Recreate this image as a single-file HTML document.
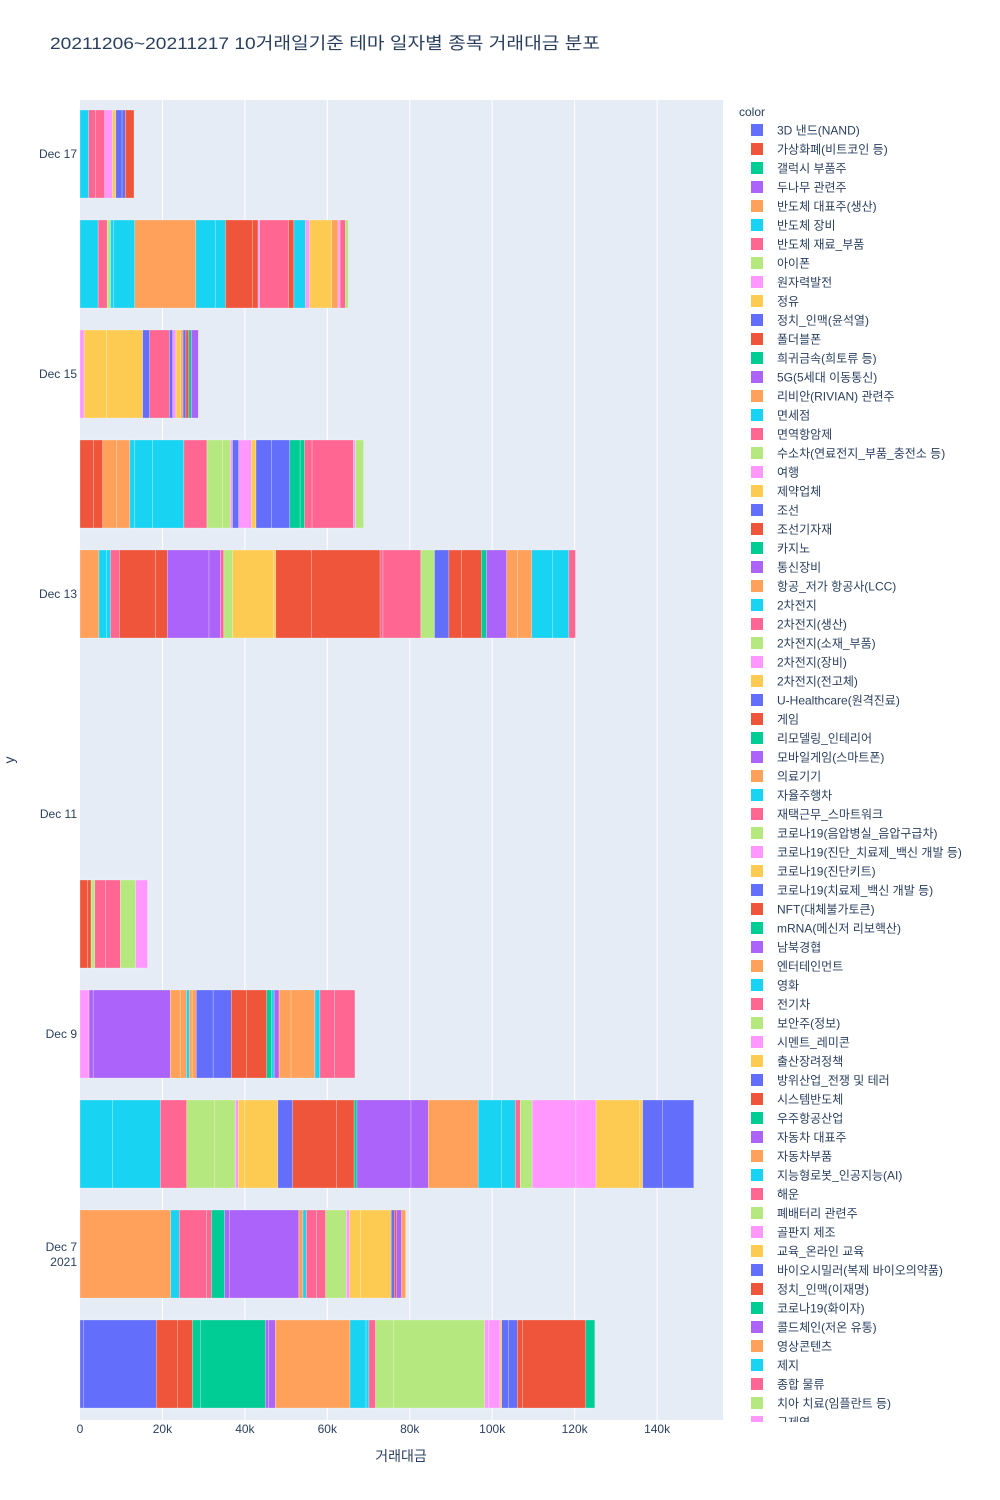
<!DOCTYPE html>
<html><head><meta charset="utf-8"><style>
body{margin:0;background:#fff}
svg{display:block;font-family:"Liberation Sans","Noto Sans CJK KR",sans-serif}
</style></head><body>
<svg id="chart" width="1000" height="1500">
<text x="50" y="49" font-size="17" fill="#2a3f5f" textLength="550" lengthAdjust="spacingAndGlyphs">20211206~20211217 10거래일기준 테마 일자별 종목 거래대금 분포</text>
<rect x="80" y="100" width="643" height="1320" fill="#e5ecf6"/>
<g id="grid"></g><g id="bars"></g><g id="axes"></g>
<text x="401" y="1461" font-size="14" fill="#2a3f5f" text-anchor="middle">거래대금</text>
<text transform="translate(14,760) rotate(-90)" font-size="14" fill="#2a3f5f" text-anchor="middle">y</text>
<defs><clipPath id="lc"><rect x="730" y="100" width="270" height="1322"/></clipPath></defs>
<text x="739" y="116" font-size="12" fill="#2a3f5f">color</text>
<g id="legend" clip-path="url(#lc)"></g>
</svg>
<script>
const colors=["#636efa","#EF553B","#00cc96","#ab63fa","#FFA15A","#19d3f3","#FF6692","#B6E880","#FF97FF","#FECB52"];
const dates=["Dec 6","Dec 7","Dec 8","Dec 9","Dec 10","Dec 11","Dec 12","Dec 13","Dec 14","Dec 15","Dec 16","Dec 17"];
const xTicks=[0,20,40,60,80,100,120,140];
const xTickLabels=["0","20k","40k","60k","80k","100k","120k","140k"];
const yTickDates=["Dec 7\n2021","Dec 9","Dec 11","Dec 13","Dec 15","Dec 17"];
const yTickIdx=[1,3,5,7,9,11];
const vals=[
[0.9,17.6,5.2,3.6,2.0,15.7,0.8,1.6,18.1,3.9,0.7,1.6,4.3,22.2,1.0,2.7,0.4,1.7,2.1,1.3,15.3,2.2],
[22.0,2.1,6.6,1.2,3.2,1.2,16.8,1.0,0.8,2.5,2.2,5.0,0.8,2.6,7.5,0.8,0.5,1.2,1.0],
[7.9,11.6,6.4,6.8,5.0,0.7,1.6,8.0,3.6,10.6,4.3,0.7,13.1,4.2,12.1,5.6,3.4,1.2,2.9,10.6,4.9,10.6,0.7,4.8,7.6],
[2.2,1.0,18.7,2.4,1.5,0.7,0.7,1.0,4.1,4.4,3.7,4.9,1.2,0.6,1.2,2.9,5.8,1.2,3.5,5.0],
[1.8,0.9,0.9,2.6,3.6,3.7,2.9],
[],[],
[4.6,1.9,0.9,2.2,8.7,2.9,10.1,2.8,0.8,2.1,9.9,0.6,8.6,16.7,0.7,9.2,3.3,3.5,3.0,4.9,1.2,4.9,2.6,3.5,5.1,3.9,1.6],
[3.3,2.2,3.4,3.2,1.2,4.3,7.6,5.6,3.8,1.9,0.5,1.5,3.1,1.1,3.8,4.4,2.5,1.1,1.8,10.0,0.5,2.0],
[1.0,5.5,8.7,1.7,4.8,0.8,0.8,1.2,0.5,0.7,0.7,0.6,1.7],
[4.4,2.2,0.8,0.8,5.1,14.8,4.7,2.5,6.5,1.4,0.4,7.0,1.3,2.8,1.0,5.4,1.5,0.5,1.3,0.7],
[2.1,1.7,2.2,1.9,0.8,1.5,0.8,2.1]
];
const cols=[
[0,0,1,1,2,2,3,3,4,5,5,6,7,7,8,8,9,0,0,1,1,2],
[4,5,6,6,2,3,3,4,5,6,6,7,8,9,9,0,1,3,4],
[5,5,6,7,7,8,9,9,0,1,1,2,3,3,4,5,5,6,7,8,8,9,9,0,0],
[8,3,3,4,4,5,4,4,0,0,1,1,2,5,3,4,4,5,6,6],
[1,1,7,6,6,7,8],
[],[],
[4,5,5,6,1,1,3,3,6,7,9,9,1,1,6,6,7,0,1,1,2,3,4,4,5,5,6],
[1,1,4,4,5,5,5,6,7,7,8,0,8,9,0,0,2,2,6,6,8,7],
[8,9,9,0,6,0,8,9,4,0,1,2,3],
[5,6,7,5,5,4,5,5,1,1,8,6,1,5,8,9,4,8,6,7],
[5,6,6,8,9,0,0,1]
];
const legendLabels=["3D 낸드(NAND)","가상화폐(비트코인 등)","갤럭시 부품주","두나무 관련주","반도체 대표주(생산)","반도체 장비","반도체 재료_부품","아이폰","원자력발전","정유","정치_인맥(윤석열)","폴더블폰","희귀금속(희토류 등)","5G(5세대 이동통신)","리비안(RIVIAN) 관련주","면세점","면역항암제","수소차(연료전지_부품_충전소 등)","여행","제약업체","조선","조선기자재","카지노","통신장비","항공_저가 항공사(LCC)","2차전지","2차전지(생산)","2차전지(소재_부품)","2차전지(장비)","2차전지(전고체)","U-Healthcare(원격진료)","게임","리모델링_인테리어","모바일게임(스마트폰)","의료기기","자율주행차","재택근무_스마트워크","코로나19(음압병실_음압구급차)","코로나19(진단_치료제_백신 개발 등)","코로나19(진단키트)","코로나19(치료제_백신 개발 등)","NFT(대체불가토큰)","mRNA(메신저 리보핵산)","남북경협","엔터테인먼트","영화","전기차","보안주(정보)","시멘트_레미콘","출산장려정책","방위산업_전쟁 및 테러","시스템반도체","우주항공산업","자동차 대표주","자동차부품","지능형로봇_인공지능(AI)","해운","폐배터리 관련주","골판지 제조","교육_온라인 교육","바이오시밀러(복제 바이오의약품)","정치_인맥(이재명)","코로나19(화이자)","콜드체인(저온 유통)","영상콘텐츠","제지","종합 물류","치아 치료(임플란트 등)","구제역"];
const NS="http://www.w3.org/2000/svg";
const X0=80,KPX=4.122;
const xs=v=>X0+v*KPX;
const yc=i=>1364-i*110;
function mk(tag,attrs,parent,text){const e=document.createElementNS(NS,tag);for(const k in attrs)e.setAttribute(k,attrs[k]);if(text!==undefined)e.textContent=text;parent.appendChild(e);return e;}
const grid=document.getElementById('grid'),bars=document.getElementById('bars'),axes=document.getElementById('axes'),leg=document.getElementById('legend');
xTicks.forEach((t,i)=>{
  if(t>0){const l=mk('line',{x1:xs(t),x2:xs(t),y1:100,y2:1420,stroke:'#fff','stroke-width':1},grid);
  
  }
  const tx=mk('text',{x:xs(t),y:1433,'font-size':12,fill:'#2a3f5f','text-anchor':'middle'},axes,xTickLabels[i]);
  
  
});
yTickIdx.forEach((d,i)=>{
  const parts=yTickDates[i].split("\n");
  const y0=yc(d)+4-(parts.length-1)*7;
  parts.forEach((p,j)=>{
    const tx=mk('text',{x:77,y:y0+j*15,'font-size':12,fill:'#2a3f5f','text-anchor':'end'},axes,p);
    
    
  });
});
vals.forEach((row,d)=>{
  let acc=0;
  row.forEach((v,j)=>{
    const r=mk('rect',{x:xs(acc),y:yc(d)-44,width:Math.max(0,xs(acc+v)-xs(acc)),height:88,fill:colors[cols[d][j]],stroke:'rgba(255,255,255,0.5)','stroke-width':0.5},bars);
    
    
    acc+=v;
  });
});
legendLabels.forEach((lab,i)=>{
  const y=130+i*19;
  const g=mk('g',{},leg);
  
  
  mk('rect',{x:751,y:y-6,width:12,height:12,fill:colors[i%10]},g);
  mk('text',{x:777,y:y+4.5,'font-size':12,fill:'#2a3f5f'},g,lab);
});
</script>
</body></html>
